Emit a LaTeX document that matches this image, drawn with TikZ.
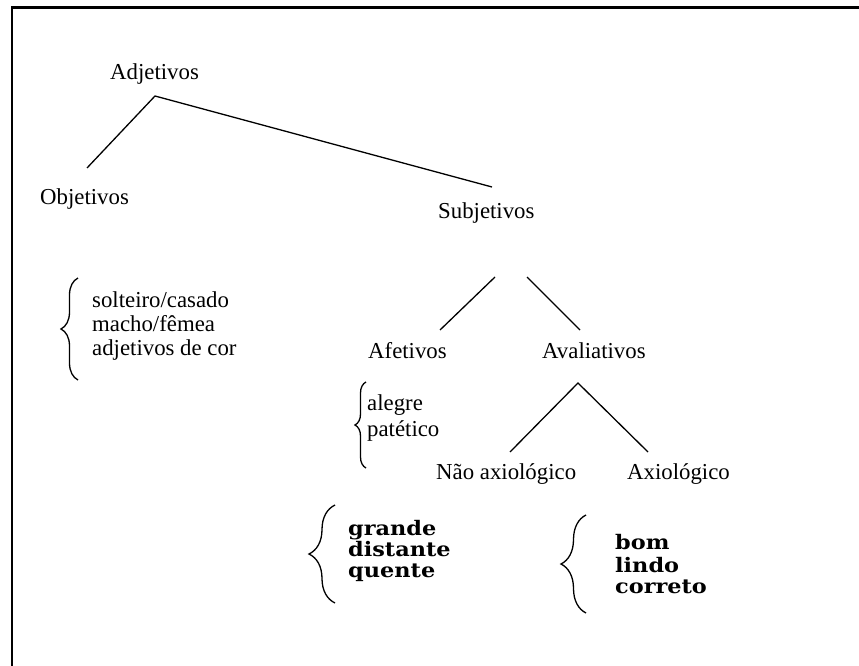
\documentclass[tikz,border=0pt]{standalone}
\usepackage{fontspec}
\setmainfont{Liberation Serif}
\newfontfamily\bfam{DejaVu Serif}[FakeStretch=1.12]
\usetikzlibrary{decorations.pathreplacing}
\begin{document}
\begin{tikzpicture}[x=1pt,y=-1pt,
  txt/.style={inner sep=0pt, anchor=base west, font=\fontsize{22.8}{27}\selectfont},
  btxt/.style={inner sep=0pt, anchor=base west, font=\bfam\bfseries\fontsize{20}{23}\selectfont},
  conn/.style={line width=1.3pt},
  brc/.style={decorate, decoration={brace, amplitude=#1}, line width=1.3pt}]
\useasboundingbox (0,0) rectangle (859,666);
\fill[white] (0,0) rectangle (859,666);
% frame
\draw[line width=2.2pt] (12,666) -- (12,7.5) -- (859,7.5);
% texts
\node[txt] (adj) at (110,80) {Adjetivos};
\node[txt] (obj) at (40,204) {Objetivos};
\node[txt] (sub) at (438,218) {Subjetivos};
\node[txt] (s1) at (92,307) {solteiro/casado};
\node[txt] (s2) at (92,331) {macho/fêmea};
\node[txt] (s3) at (92,355.5) {adjetivos de cor};
\node[txt] (afe) at (368,358) {Afetivos};
\node[txt] (ava) at (542,358) {Avaliativos};
\node[txt] (a1) at (367,410) {alegre};
\node[txt] (a2) at (367,436.5) {patético};
\node[txt] (nao) at (436,479) {Não axiológico};
\node[txt] (axi) at (627,479) {Axiológico};
\node[btxt] (g1) at (348,535) {grande};
\node[btxt] (g2) at (348,556) {distante};
\node[btxt] (g3) at (348,577) {quente};
\node[btxt] (b1) at (615,549) {bom};
\node[btxt] (b2) at (615,572) {lindo};
\node[btxt] (b3) at (615,593) {correto};
% connector ends
\coordinate (adjJ) at (155,96);
\coordinate (objT) at (87,168);
\coordinate (subT) at (492,187);
\coordinate (subJL) at (495,277);
\coordinate (subJR) at (527,277);
\coordinate (afeT) at (440,330);
\coordinate (avaT) at (580,330);
\coordinate (avaJ) at (578,383);
\coordinate (naoT) at (510,452);
\coordinate (axiT) at (648,452);
\draw[conn] (objT) -- (adjJ) -- (subT);
\draw[conn] (subJL) -- (afeT);
\draw[conn] (subJR) -- (avaT);
\draw[conn] (naoT) -- (avaJ) -- (axiT);
% braces
\draw[brc=17] (78,380) -- (78,278);
\draw[brc=11] (366,468) -- (366,382);
\draw[brc=26] (335,603) -- (335,505);
\draw[brc=25] (586,613) -- (586,515);
\end{tikzpicture}
\end{document}
